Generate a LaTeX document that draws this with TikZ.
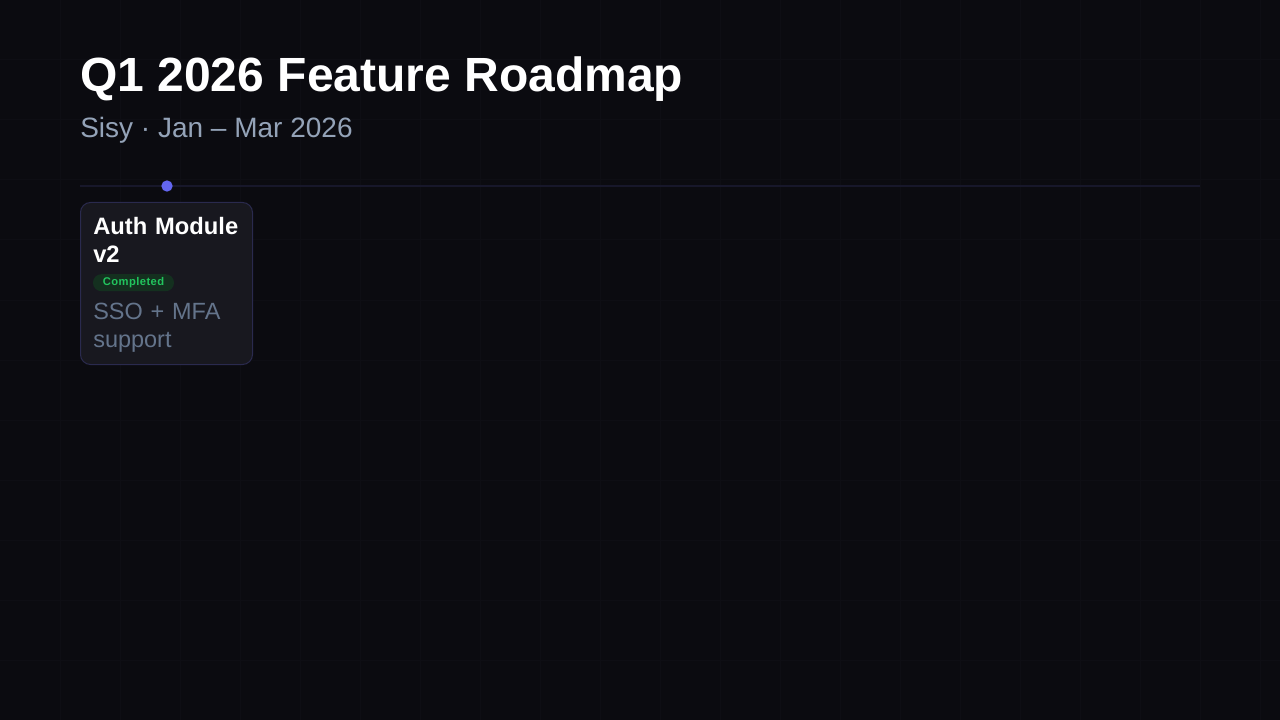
\documentclass[tikz,border=0pt]{standalone}
\usepackage{fontspec}
\setmainfont{Liberation Sans}
\definecolor{bg}{HTML}{0B0B10}
\definecolor{gridc}{HTML}{0E0E14}
\definecolor{track}{HTML}{17172A}
\definecolor{accent}{HTML}{6366F1}
\definecolor{cardfill}{HTML}{18181F}
\definecolor{cardline}{HTML}{2A2A4E}
\definecolor{subtle}{HTML}{94A3B8}
\definecolor{muted}{HTML}{64748B}
\definecolor{donefill}{HTML}{14301F}
\definecolor{donetext}{HTML}{22C55E}
\begin{document}
\begin{tikzpicture}[x=0.75pt,y=-0.75pt, line join=round, line cap=round,
    card/.style={draw=cardline, fill=cardfill, line width=0.75pt, rounded corners=7.5pt,
      minimum width=129pt, minimum height=121.5pt, inner sep=0},
    badge/.style={fill=donefill, rounded corners=6.3pt, minimum width=60.75pt,
      minimum height=12.75pt, inner sep=0, text=donetext,
      font=\bfseries\fontsize{8.4}{10}\selectfont\addfontfeatures{LetterSpace=4}},
    milestone/.style={circle, fill=accent, minimum size=8.5pt, inner sep=0},
    txt/.style={anchor=base west, inner sep=0}]
    \def\xmax{1280} \def\ymax{720}
    \useasboundingbox (0,0) rectangle (\xmax,\ymax);
    \fill[bg] (-10,-10) rectangle (\xmax+10,\ymax+10);
    % faint background grid
    \foreach \x in {60,120,...,1260}
        \draw[gridc, line width=0.75pt, line cap=butt] (\x,-10) -- (\x,\ymax+10);
    \foreach \y in {60,120,...,660}
        \draw[gridc, line width=0.75pt, line cap=butt] (-10,\y) -- (\xmax+10,\y);
    \node[txt, text=white, font=\bfseries\fontsize{36}{43}\selectfont] (title) at (80,92) {Q1 2026 Feature Roadmap};
    \node[txt, text=subtle, font=\fontsize{21}{25}\selectfont] (subtitle) at (80,138) {Sisy · Jan -- Mar 2026};
    % timeline
    \coordinate (tl) at (80,186);
    \coordinate (tr) at (1200,186);
    \draw[track, line width=1.5pt, line cap=butt] (tl) -- (tr);
    \node[milestone] (m1) at (167,186) {};
    % card
    \node[card] (auth) at (166.5,283.5) {};
    \node[txt, text=white, text width=120pt, align=left, font=\bfseries\fontsize{17.8}{21}\selectfont] (authname) at (93,234) {Auth Module\\v2};
    \node[badge] (authstate) at (133.5,282.7) {Completed};
    \node[txt, text=muted, text width=120pt, align=left, font=\fontsize{17.6}{21}\selectfont] (authdesc) at (93,319) {SSO + MFA\\support};
\end{tikzpicture}
\end{document}
